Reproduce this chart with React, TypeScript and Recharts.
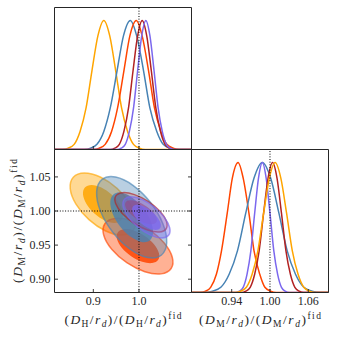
import React from 'react';
import { LineChart, Line, XAxis, YAxis, ReferenceLine } from 'recharts';

type P = [number, number];

// ---------- 1D marginal of (D_H/r_d)/(D_H/r_d)^fid (top panel) ----------
const dhOrange: P[] = [[0.815,0],[0.832,0],[0.845,0.01],[0.858,0.04],[0.871,0.14],[0.884,0.32],[0.897,0.61],[0.910,0.88],[0.923,1],[0.936,0.88],[0.949,0.61],[0.962,0.32],[0.975,0.14],[0.988,0.04],[1.001,0.01],[1.014,0],[1.115,0]];
const dhBlue: P[] = [[0.815,0],[0.880,0],[0.894,0.01],[0.908,0.04],[0.923,0.14],[0.937,0.32],[0.952,0.61],[0.966,0.88],[0.981,1],[0.995,0.88],[1.010,0.61],[1.024,0.32],[1.039,0.14],[1.053,0.04],[1.068,0.01],[1.082,0],[1.115,0]];
const dhRed: P[] = [[0.815,0],[0.900,0],[0.913,0.01],[0.926,0.04],[0.940,0.14],[0.953,0.32],[0.967,0.61],[0.980,0.88],[0.994,1],[1.007,0.88],[1.021,0.61],[1.034,0.32],[1.048,0.14],[1.061,0.04],[1.075,0.01],[1.088,0],[1.115,0]];
const dhFire: P[] = [[0.815,0],[0.937,0],[0.947,0.01],[0.957,0.04],[0.967,0.14],[0.977,0.32],[0.987,0.61],[0.997,0.88],[1.007,1],[1.017,0.88],[1.027,0.61],[1.037,0.32],[1.047,0.14],[1.057,0.04],[1.067,0.01],[1.077,0],[1.115,0]];
const dhPurple: P[] = [[0.815,0],[0.952,0],[0.961,0.01],[0.970,0.04],[0.979,0.14],[0.988,0.32],[0.997,0.61],[1.006,0.88],[1.015,1],[1.024,0.88],[1.033,0.61],[1.042,0.32],[1.051,0.14],[1.060,0.04],[1.069,0.01],[1.078,0],[1.115,0]];

// ---------- 1D marginal of (D_M/r_d)/(D_M/r_d)^fid (right panel) ----------
const dmRed: P[] = [[0.877,0],[0.890,0],[0.899,0.01],[0.907,0.04],[0.916,0.14],[0.924,0.32],[0.933,0.61],[0.941,0.88],[0.950,1],[0.958,0.88],[0.967,0.61],[0.975,0.32],[0.984,0.14],[0.992,0.04],[1.001,0.01],[1.010,0],[1.092,0]];
const dmBlue: P[] = [[0.877,0],[0.897,0],[0.910,0.01],[0.923,0.04],[0.936,0.14],[0.949,0.32],[0.962,0.61],[0.975,0.88],[0.988,1],[1.001,0.88],[1.014,0.61],[1.027,0.32],[1.040,0.14],[1.053,0.04],[1.066,0.01],[1.079,0],[1.092,0]];
const dmPurple: P[] = [[0.877,0],[0.946,0],[0.952,0.01],[0.958,0.04],[0.964,0.14],[0.970,0.32],[0.976,0.61],[0.982,0.88],[0.988,1],[0.994,0.88],[1.000,0.61],[1.006,0.32],[1.012,0.14],[1.018,0.04],[1.024,0.01],[1.030,0],[1.092,0]];
const dmFire: P[] = [[0.877,0],[0.955,0],[0.962,0.01],[0.969,0.04],[0.976,0.14],[0.983,0.32],[0.990,0.61],[0.997,0.88],[1.004,1],[1.011,0.88],[1.018,0.61],[1.025,0.32],[1.032,0.14],[1.039,0.04],[1.046,0.01],[1.053,0],[1.092,0]];
const dmOrange: P[] = [[0.877,0],[0.945,0],[0.954,0.01],[0.963,0.04],[0.972,0.14],[0.981,0.32],[0.990,0.61],[0.999,0.88],[1.008,1],[1.017,0.88],[1.026,0.61],[1.035,0.32],[1.044,0.14],[1.053,0.04],[1.062,0.01],[1.071,0],[1.092,0]];

// ---------- 2D contours (68% / 95%), boundary points ----------
const ellOrange95: P[] = [[0.9893,0.9691],[0.9641,0.9626],[0.9274,0.9689],[0.8890,0.9863],[0.8592,1.0101],[0.8461,1.0340],[0.8531,1.0515],[0.8783,1.0580],[0.9150,1.0517],[0.9534,1.0343],[0.9832,1.0105],[0.9963,0.9866]];
const ellOrange68: P[] = [[0.9627,0.9852],[0.9474,0.9812],[0.9250,0.9850],[0.9016,0.9957],[0.8834,1.0102],[0.8754,1.0248],[0.8797,1.0354],[0.8950,1.0394],[0.9174,1.0356],[0.9408,1.0249],[0.9590,1.0104],[0.9670,0.9958]];
const ellRed95: P[] = [[1.0738,0.9141],[1.0508,0.9059],[1.0136,0.9092],[0.9722,0.9230],[0.9376,0.9436],[0.9192,0.9655],[0.9218,0.9829],[0.9448,0.9911],[0.9820,0.9878],[1.0234,0.9740],[1.0580,0.9534],[1.0764,0.9315]];
const ellRed68: P[] = [[1.0442,0.9275],[1.0301,0.9225],[1.0074,0.9245],[0.9822,0.9329],[0.9611,0.9455],[0.9499,0.9589],[0.9514,0.9695],[0.9655,0.9745],[0.9882,0.9725],[1.0134,0.9641],[1.0345,0.9515],[1.0457,0.9381]];
const ellBlue95: P[] = [[1.0517,0.9325],[1.0210,0.9289],[0.9803,0.9419],[0.9407,0.9679],[0.9126,1.0001],[0.9037,1.0297],[0.9163,1.0489],[0.9470,1.0525],[0.9877,1.0395],[1.0273,1.0135],[1.0554,0.9813],[1.0643,0.9517]];
const ellBlue68: P[] = [[1.0253,0.9552],[1.0066,0.9530],[0.9817,0.9609],[0.9576,0.9768],[0.9404,0.9964],[0.9350,1.0145],[0.9427,1.0262],[0.9614,1.0284],[0.9863,1.0205],[1.0104,1.0046],[1.0276,0.9850],[1.0330,0.9669]];
const ellFire95: P[] = [[1.0621,0.9729],[1.0462,0.9679],[1.0192,0.9710],[0.9882,0.9813],[0.9615,0.9961],[0.9463,1.0115],[0.9467,1.0233],[0.9626,1.0283],[0.9896,1.0252],[1.0206,1.0149],[1.0473,1.0001],[1.0625,0.9847]];
const ellFire68: P[] = [[1.0396,0.9827],[1.0299,0.9797],[1.0134,0.9816],[0.9945,0.9879],[0.9782,0.9969],[0.9690,1.0063],[0.9692,1.0135],[0.9789,1.0165],[0.9954,1.0146],[1.0143,1.0083],[1.0306,0.9993],[1.0398,0.9899]];
const ellPurple95: P[] = [[1.0671,0.9631],[1.0510,0.9590],[1.0256,0.9634],[0.9977,0.9752],[0.9748,0.9911],[0.9631,1.0068],[0.9657,1.0183],[0.9818,1.0224],[1.0072,1.0180],[1.0351,1.0062],[1.0580,0.9903],[1.0697,0.9746]];
const ellPurple68: P[] = [[1.0473,0.9739],[1.0375,0.9714],[1.0220,0.9740],[1.0050,0.9812],[0.9910,0.9909],[0.9839,1.0005],[0.9855,1.0075],[0.9953,1.0100],[1.0108,1.0074],[1.0278,1.0002],[1.0418,0.9905],[1.0489,0.9809]];

// ---------- axes ----------
const dhDomain: P = [0.815, 1.115];
const dmDomain: P = [0.8805, 1.0902];
const dmDomainC: P = [0.877, 1.0917];
const pdfDomain: P = [0, 1.1];
const dhTicks = [0.9, 1.0];
const dmTicks = [0.9, 0.95, 1.0, 1.05];
const dmTicksC = [0.94, 1.0, 1.06];

const ORANGE = '#FFA500';
const BLUE = '#4682B4';
const RED = '#FF4500';
const FIRE = '#B22222';
const PURPLE = '#7B68EE';

const FONT = "'Liberation Serif', 'DejaVu Serif', serif";
const AX = '#262626';
const SUB = 9.5;
const TINY = 0.01;

const pts = (a: P[]) => a.map(([x, y]) => ({ x, y }));

const css = `
.e-o95 path.recharts-line-curve{fill:${ORANGE};fill-opacity:.42}
.e-o68 path.recharts-line-curve{fill:${ORANGE};fill-opacity:.85}
.e-r95 path.recharts-line-curve{fill:${RED};fill-opacity:.42}
.e-r68 path.recharts-line-curve{fill:${RED};fill-opacity:.85}
.e-b95 path.recharts-line-curve{fill:${BLUE};fill-opacity:.38}
.e-b68 path.recharts-line-curve{fill:${BLUE};fill-opacity:.8}
.e-f95 path.recharts-line-curve{fill:${FIRE};fill-opacity:.18}
.e-f68 path.recharts-line-curve{fill:${FIRE};fill-opacity:.5}
.e-p95 path.recharts-line-curve{fill:${PURPLE};fill-opacity:.4}
.e-p68 path.recharts-line-curve{fill:${PURPLE};fill-opacity:.8}
.serif text, text.serif { font-family: ${FONT}; }
`;

const txtStyle: React.CSSProperties = { fontFamily: FONT };

const mkTick = (side: 'bottom' | 'top' | 'left' | 'right', fmt?: (v: number) => string) => (props: any) => {
  const { x, y, payload } = props;
  const L = 3.5;
  let line;
  if (side === 'bottom') line = <line x1={x} y1={y} x2={x} y2={y - L} />;
  else if (side === 'top') line = <line x1={x} y1={y} x2={x} y2={y + L} />;
  else if (side === 'left') line = <line x1={x} y1={y} x2={x + L} y2={y} />;
  else line = <line x1={x} y1={y} x2={x - L} y2={y} />;
  return (
    <g stroke={AX} strokeWidth={0.9}>
      {line}
      {fmt && side === 'bottom' && (
        <text x={x} y={y + 12.5} textAnchor="middle" style={txtStyle} fontSize={12} fill={AX} stroke="none">{fmt(payload.value)}</text>
      )}
      {fmt && side === 'left' && (
        <text x={x - 4} y={y + 4} textAnchor="end" style={txtStyle} fontSize={12} fill={AX} stroke="none">{fmt(payload.value)}</text>
      )}
    </g>
  );
};

const ratioText = (sub: string) => [
  <tspan key="1">(</tspan>,
  <tspan key="2" fontStyle="italic">D</tspan>,
  <tspan key="3" fontSize={SUB} dy={2.8}>{sub}</tspan>,
  <tspan key="4" dy={-2.8}>/</tspan>,
  <tspan key="5" fontStyle="italic">r</tspan>,
  <tspan key="6" fontStyle="italic" fontSize={SUB} dy={2.8}>d</tspan>,
  <tspan key="7" dy={-2.8}>)/(</tspan>,
  <tspan key="8" fontStyle="italic">D</tspan>,
  <tspan key="9" fontSize={SUB} dy={2.8}>{sub}</tspan>,
  <tspan key="10" dy={-2.8}>/</tspan>,
  <tspan key="11" fontStyle="italic">r</tspan>,
  <tspan key="12" fontStyle="italic" fontSize={SUB} dy={2.8}>d</tspan>,
  <tspan key="13" dy={-2.8}>)</tspan>,
  <tspan key="14" fontSize={SUB} dy={-5.5}>fid</tspan>,
];

const xLabel = (sub: string, len: number) => (props: any) => {
  const vb = props.viewBox || {};
  const cx = vb.x + vb.width / 2;
  const y = vb.y + 31.5;
  return (
    <text x={cx} y={y} textAnchor="middle" style={txtStyle} fontSize={13.5} fill={AX} textLength={len} lengthAdjust="spacing">
      {ratioText(sub)}
    </text>
  );
};

const yLabel = (sub: string, len: number) => (props: any) => {
  const vb = props.viewBox || {};
  const cy = vb.y + vb.height / 2;
  const x = 22;
  return (
    <text x={x} y={cy} transform={`rotate(-90, ${x}, ${cy})`} textAnchor="middle" style={txtStyle} fontSize={13.5} fill={AX} textLength={len} lengthAdjust="spacing">
      {ratioText(sub)}
    </text>
  );
};

const curve = (data: P[], color: string, id: string) => (
  <Line key={color + id} data={pts(data)} dataKey="y" type="monotone" stroke={color} strokeWidth={1.5}
    dot={false} activeDot={false} isAnimationActive={false} xAxisId={id} yAxisId={id} />
);

const ell = (data: P[], color: string, cls: string, outer: boolean) => (
  <Line key={cls} data={pts(data)} dataKey="y" type="basisClosed" className={cls}
    stroke={outer ? color : 'none'} strokeOpacity={0.65} strokeWidth={outer ? 1.5 : 0}
    dot={false} activeDot={false} isAnimationActive={false} xAxisId="b" yAxisId="b" />
);

const dotted = { stroke: '#000', strokeWidth: 1, strokeDasharray: '1 1.65' };

const box: React.CSSProperties = { position: 'absolute', left: 0, top: 0 };

export default function App() {
  return (
    <div style={{ position: 'fixed', left: 0, top: 0, width: 337, height: 337, background: '#fff', overflow: 'hidden' }}>
      <style>{css}</style>

      {/* Top panel: D_H marginal */}
      <div style={box}>
        <LineChart width={337} height={337} margin={{ top: 7.5, left: 54.5 - TINY, right: 145.5 - TINY, bottom: 187.5 - TINY }}>
          <XAxis xAxisId="a" dataKey="x" type="number" domain={dhDomain} allowDataOverflow ticks={dhTicks} interval={0}
            height={TINY} tickSize={0} tickMargin={0} tickLine={false} tick={mkTick('bottom')} axisLine={{ stroke: AX }} />
          <XAxis xAxisId="at" orientation="top" type="number" domain={dhDomain} allowDataOverflow height={TINY} tick={false} tickLine={false} axisLine={{ stroke: AX }} />
          <YAxis yAxisId="a" type="number" domain={pdfDomain} allowDataOverflow width={TINY} tick={false} tickLine={false} axisLine={{ stroke: AX }} />
          <YAxis yAxisId="ar" orientation="right" type="number" domain={pdfDomain} allowDataOverflow width={TINY} tick={false} tickLine={false} axisLine={{ stroke: AX }} />
          {curve(dhOrange, ORANGE, 'a')}
          {curve(dhBlue, BLUE, 'a')}
          {curve(dhRed, RED, 'a')}
          {curve(dhFire, FIRE, 'a')}
          {curve(dhPurple, PURPLE, 'a')}
          <ReferenceLine x={1} xAxisId="a" yAxisId="a" {...dotted} />
        </LineChart>
      </div>

      {/* Bottom-left: 2D contours */}
      <div style={box}>
        <LineChart width={337} height={337} margin={{ top: 149.5 - TINY, left: 0, right: 145.5 - TINY, bottom: 0 }}>
          <XAxis xAxisId="b" dataKey="x" type="number" domain={dhDomain} allowDataOverflow ticks={dhTicks} interval={0}
            height={44.5} tickSize={0} tickMargin={0} tickLine={false} tick={mkTick('bottom', (v) => v.toFixed(1))} axisLine={{ stroke: AX }}
            label={{ content: xLabel('H', 117) }} />
          <XAxis xAxisId="bt" orientation="top" type="number" domain={dhDomain} allowDataOverflow ticks={dhTicks} interval={0}
            height={TINY} tickSize={0} tickMargin={0} tickLine={false} tick={mkTick('top')} axisLine={{ stroke: AX }} />
          <YAxis yAxisId="b" type="number" domain={dmDomain} allowDataOverflow ticks={dmTicks} interval={0}
            width={54.5} tickSize={0} tickMargin={0} tickLine={false} tick={mkTick('left', (v) => v.toFixed(2))} axisLine={{ stroke: AX }}
            label={{ content: yLabel('M', 124) }} />
          <YAxis yAxisId="br" orientation="right" type="number" domain={dmDomain} allowDataOverflow ticks={dmTicks} interval={0}
            width={TINY} tickSize={0} tickMargin={0} tickLine={false} tick={mkTick('right')} axisLine={{ stroke: AX }} />
          {ell(ellOrange95, ORANGE, 'e-o95', true)}
          {ell(ellOrange68, ORANGE, 'e-o68', false)}
          {ell(ellRed95, RED, 'e-r95', true)}
          {ell(ellRed68, RED, 'e-r68', false)}
          {ell(ellBlue95, BLUE, 'e-b95', true)}
          {ell(ellBlue68, BLUE, 'e-b68', false)}
          {ell(ellFire95, FIRE, 'e-f95', true)}
          {ell(ellFire68, FIRE, 'e-f68', false)}
          {ell(ellPurple95, PURPLE, 'e-p95', true)}
          {ell(ellPurple68, PURPLE, 'e-p68', false)}
          <ReferenceLine x={1} xAxisId="b" yAxisId="b" {...dotted} />
          <ReferenceLine y={1} xAxisId="b" yAxisId="b" {...dotted} />
        </LineChart>
      </div>

      {/* Bottom-right: D_M marginal */}
      <div style={box}>
        <LineChart width={337} height={337} margin={{ top: 149.5 - TINY, left: 191.5 - TINY, right: 8.5 - TINY, bottom: 0 }}>
          <XAxis xAxisId="c" dataKey="x" type="number" domain={dmDomainC} allowDataOverflow ticks={dmTicksC} interval={0}
            height={44.5} tickSize={0} tickMargin={0} tickLine={false} tick={mkTick('bottom', (v) => v.toFixed(2))} axisLine={{ stroke: AX }}
            label={{ content: xLabel('M', 122) }} />
          <XAxis xAxisId="ct" orientation="top" type="number" domain={dmDomainC} allowDataOverflow height={TINY} tick={false} tickLine={false} axisLine={{ stroke: AX }} />
          <YAxis yAxisId="c" type="number" domain={pdfDomain} allowDataOverflow width={TINY} tick={false} tickLine={false} axisLine={{ stroke: AX }} />
          <YAxis yAxisId="cr" orientation="right" type="number" domain={pdfDomain} allowDataOverflow width={TINY} tick={false} tickLine={false} axisLine={{ stroke: AX }} />
          {curve(dmRed, RED, 'c')}
          {curve(dmBlue, BLUE, 'c')}
          {curve(dmPurple, PURPLE, 'c')}
          {curve(dmFire, FIRE, 'c')}
          {curve(dmOrange, ORANGE, 'c')}
          <ReferenceLine x={1} xAxisId="c" yAxisId="c" {...dotted} />
        </LineChart>
      </div>
    </div>
  );
}
